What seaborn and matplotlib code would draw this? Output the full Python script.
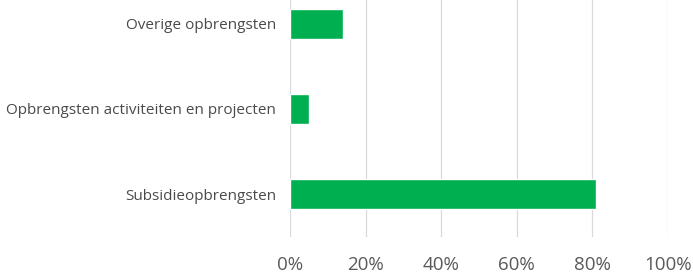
import matplotlib
matplotlib.use("Agg")
import matplotlib.pyplot as plt
import seaborn as sns
import pandas as pd
from matplotlib.ticker import PercentFormatter

# data
categories = ["Overige opbrengsten",
              "Opbrengsten activiteiten en projecten",
              "Subsidieopbrengsten"]
shares = [14, 5, 81]  # percent

df = pd.DataFrame({"cat": categories, "pct": shares})

sns.set_style("white")
plt.rcParams["font.family"] = ["Open Sans", "DejaVu Sans"]

fig = plt.figure(figsize=(6.93, 2.73), dpi=100)
ax = fig.add_axes([0.4185, 0.132, 0.5455, 0.938])

sns.barplot(data=df, x="pct", y="cat", color="#00B050", saturation=1,
            width=0.35, ax=ax)

ax.set_xlim(0, 100)
ax.set_xticks([0, 20, 40, 60, 80, 100])
ax.xaxis.set_major_formatter(PercentFormatter(decimals=0))
ax.grid(axis="x", color="#d9d9d9", linewidth=0.9)
ax.set_axisbelow(True)
for s in ax.spines.values():
    s.set_visible(False)
ax.set_xlabel("")
ax.set_ylabel("")
ax.tick_params(axis="x", length=0, pad=14, labelsize=13.5, labelcolor="#595959")
ax.tick_params(axis="y", length=0, pad=10, labelsize=11, labelcolor="#4a4a4a")

fig.savefig("out.png", dpi=100)
